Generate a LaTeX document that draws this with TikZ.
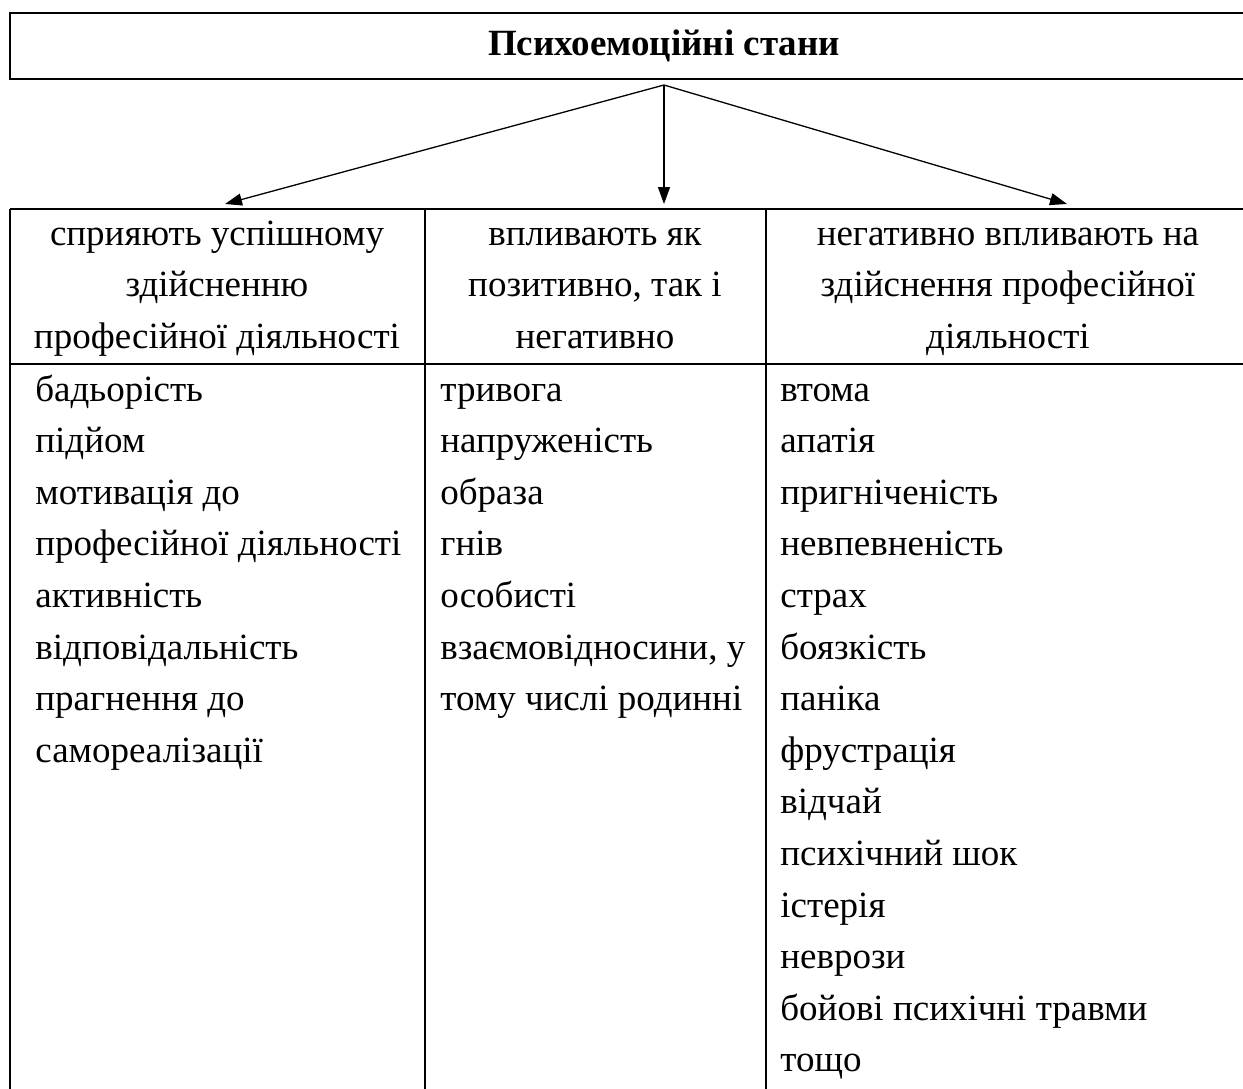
\documentclass[tikz,border=0pt]{standalone}
\usepackage{fontspec}
\setmainfont{Liberation Serif}
\usetikzlibrary{arrows.meta}

\begin{document}
\begin{tikzpicture}[x=0.5pt,y=-0.5pt,
    txt/.style={font=\fontsize{18.5}{25.8}\selectfont, inner sep=0pt},
    arr/.style={line width=0.65pt, -{Triangle[length=8.5pt,width=6pt]}}]
    \useasboundingbox (0,0) rectangle (1243,1088);
    \clip (0,0) rectangle (1243,1088);
    % top box
    \draw[line width=1.1pt] (10,13) rectangle (1262,79);
    \node[txt, font=\fontsize{18.5}{25.8}\selectfont\bfseries, anchor=base] (title) at (664,55) {Психоемоційні стани};
    % arrows
    \coordinate (src) at (664,85);
    \coordinate (t1) at (225,204);
    \coordinate (t2) at (664,204);
    \coordinate (t3) at (1067,204);
    \draw[arr] (src) -- (t1);
    \draw[arr] (src) -- (t2);
    \draw[arr] (src) -- (t3);
    % table
    \draw[line width=0.85pt] (10,209) -- (1262,209);
    \draw[line width=0.85pt] (10,364) -- (1262,364);
    \draw[line width=0.85pt] (10,209) -- (10,1100);
    \draw[line width=0.85pt] (425,209) -- (425,1100);
    \draw[line width=0.85pt] (766,209) -- (766,1100);
    % headers
    \foreach \w [count=\i] in {сприяють успішному, здійсненню, професійної діяльності}
        \node[txt, anchor=base] (h1-\i) at (217,{245+(\i-1)*51.6}) {\w};
    \foreach \w [count=\i] in {впливають як, {позитивно, так і}, негативно}
        \node[txt, anchor=base] (h2-\i) at (595,{245+(\i-1)*51.6}) {\w};
    \foreach \w [count=\i] in {негативно впливають на, здійснення професійної, діяльності}
        \node[txt, anchor=base] (h3-\i) at (1008,{245+(\i-1)*51.6}) {\w};
    % columns
    \foreach \w [count=\i] in {бадьорість, підйом, мотивація до, професійної діяльності,
        активність, відповідальність, прагнення до, самореалізації}
        \node[txt, anchor=base west] (a\i) at (35,{401+(\i-1)*51.6}) {\w};
    \foreach \w [count=\i] in {тривога, напруженість, образа, гнів, особисті,
        {взаємовідносини, у}, тому числі родинні}
        \node[txt, anchor=base west] (b\i) at (440,{401+(\i-1)*51.6}) {\w};
    \foreach \w [count=\i] in {втома, апатія, пригніченість, невпевненість, страх,
        боязкість, паніка, фрустрація, відчай, психічний шок, істерія, неврози,
        бойові психічні травми, тощо}
        \node[txt, anchor=base west] (c\i) at (780,{401+(\i-1)*51.6}) {\w};
\end{tikzpicture}
\end{document}
